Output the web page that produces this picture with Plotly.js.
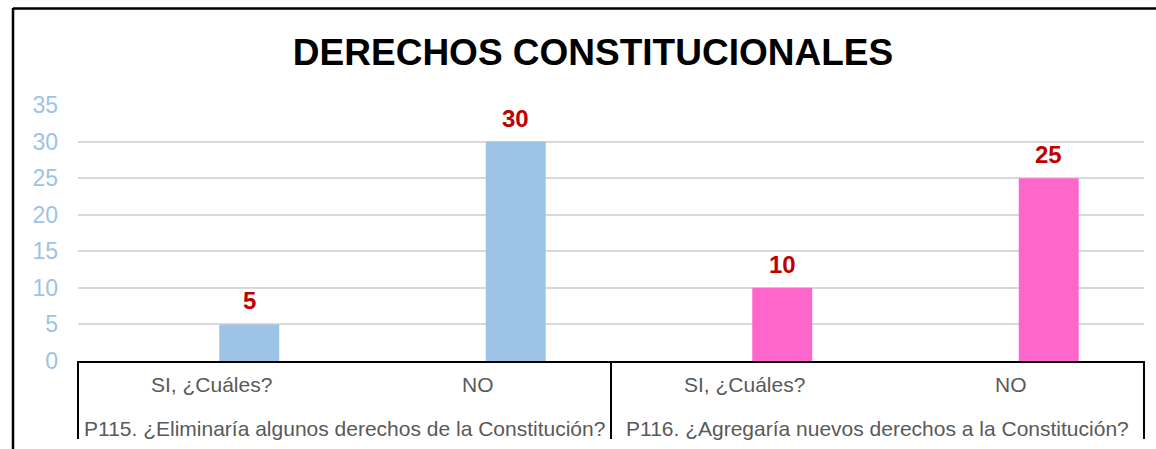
<!DOCTYPE html>
<html>
<head>
<meta charset="utf-8">
<script src="https://cdn.plot.ly/plotly-3.0.1.min.js"></script>
<style>
html,body{margin:0;padding:0;background:#fff;}
#chart{width:1156px;height:449px;}
</style>
</head>
<body>
<div id="chart"></div>
<script>
var groups = ["P115. ¿Eliminaría algunos derechos de la Constitución?", "P116. ¿Agregaría nuevos derechos a la Constitución?"];
var answers = ["SI, ¿Cuáles?", "NO"];
var p115Values = [5, 30];
var p116Values = [10, 25];
var yTicks = [0, 5, 10, 15, 20, 25, 30, 35];
var chartTitle = "DERECHOS CONSTITUCIONALES";

var FONT = "Liberation Sans, Arial, sans-serif";
var BAR_OFFSET = 0.03, BAR_WIDTH = 0.225;
var PLOT_H = 256;

function trace(group, vals, color) {
  return {
    type: "bar",
    x: [answers.map(function(){return group;}), answers],
    y: vals,
    marker: {color: color},
    offset: BAR_OFFSET,
    width: BAR_WIDTH,
    hoverinfo: "none"
  };
}

var data = [
  trace(groups[0], p115Values, "#9DC3E6"),
  trace(groups[1], p116Values, "#FF66CC")
];

var annotations = [];
var allVals = p115Values.concat(p116Values);
allVals.forEach(function(v, i){
  annotations.push({
    x: i + BAR_OFFSET + BAR_WIDTH/2, xref: "x", xanchor: "center",
    y: v, yref: "y",
    text: "<b>" + v + "</b>",
    showarrow: false,
    yanchor: "bottom",
    yshift: 8,
    font: {family: FONT, size: 24, color: "#C00000"}
  });
});
// category labels
groups.forEach(function(g, gi){
  answers.forEach(function(a, ai){
    annotations.push({
      x: gi * answers.length + ai, xref: "x", xanchor: "center",
      y: -23/PLOT_H, yref: "paper", yanchor: "middle",
      text: a, showarrow: false,
      font: {family: FONT, size: 21, color: "#595959"}
    });
  });
  annotations.push({
    x: (gi + 0.5) / groups.length, xref: "paper", xanchor: "center",
    y: -67/PLOT_H, yref: "paper", yanchor: "middle",
    text: g, showarrow: false,
    font: {family: FONT, size: 21, color: "#595959"}
  });
});

var shapes = [
  {type: "line", xref: "paper", yref: "paper", x0: -65/1066, x1: -65/1066, y0: (361-8)/PLOT_H, y1: -0.5, line: {color: "#000", width: 2.5}},
  {type: "line", xref: "paper", yref: "paper", x0: -65/1066, x1: 1.1, y0: (361-8.5)/PLOT_H, y1: (361-8.5)/PLOT_H, line: {color: "#000", width: 2.5}}
];
for (var d = 0; d <= groups.length; d++) {
  shapes.push({type: "line", xref: "paper", yref: "paper", x0: d/groups.length, x1: d/groups.length, y0: 0, y1: -78/PLOT_H, line: {color: "#000", width: 2}});
}

var layout = {
  width: 1156, height: 449,
  margin: {l: 78, r: 12, t: 105, b: 88},
  paper_bgcolor: "#fff", plot_bgcolor: "#fff",
  showlegend: false,
  barmode: "overlay",
  title: {
    text: "<b>" + chartTitle + "</b>",
    font: {family: FONT, size: 37, color: "#000"},
    x: 593/1156, xref: "container", xanchor: "center",
    y: 1 - 52/449, yref: "container", yanchor: "middle"
  },
  xaxis: {
    type: "multicategory",
    range: [-0.5, 3.5],
    showline: true, linecolor: "#000", linewidth: 2,
    showgrid: false, zeroline: false,
    showdividers: false,
    showticklabels: false,
    ticks: ""
  },
  yaxis: {
    range: [0, 35],
    tickvals: yTicks,
    ticktext: yTicks.map(String),
    showgrid: true, gridcolor: "#D9D9D9", gridwidth: 2,
    zeroline: false, showline: false,
    tickfont: {family: FONT, size: 23, color: "#9DC3E6"},
    ticklabelstandoff: 19,
    ticks: ""
  },
  annotations: annotations,
  shapes: shapes
};

Plotly.newPlot("chart", data, layout, {displayModeBar: false, staticPlot: true});
</script>
</body>
</html>
